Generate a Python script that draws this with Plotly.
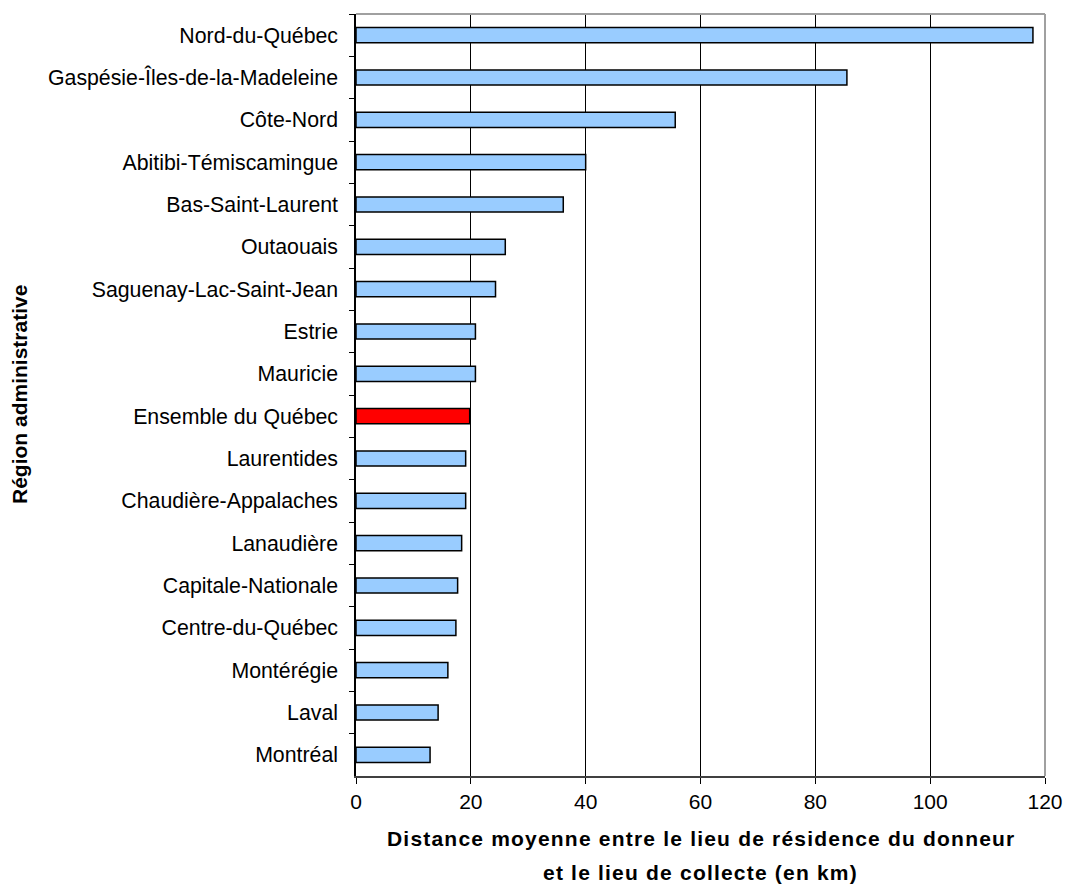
import plotly.graph_objects as go

# Regions, listed from top to bottom
regions = [
    "Nord-du-Québec",
    "Gaspésie-Îles-de-la-Madeleine",
    "Côte-Nord",
    "Abitibi-Témiscamingue",
    "Bas-Saint-Laurent",
    "Outaouais",
    "Saguenay-Lac-Saint-Jean",
    "Estrie",
    "Mauricie",
    "Ensemble du Québec",
    "Laurentides",
    "Chaudière-Appalaches",
    "Lanaudière",
    "Capitale-Nationale",
    "Centre-du-Québec",
    "Montérégie",
    "Laval",
    "Montréal",
]

# Mean distance (km) between donor residence and collection site
distance_km = [
    117.9, 85.5, 55.6, 40.0, 36.1, 26.0, 24.3, 20.8, 20.8,
    19.8, 19.1, 19.1, 18.4, 17.7, 17.4, 16.0, 14.3, 12.9,
]

x_ticks = [0, 20, 40, 60, 80, 100, 120]

# The provincial total is highlighted in red
bar_colors = ["#FF0000" if r == "Ensemble du Québec" else "#99CCFF" for r in regions]

W, H = 1065, 888
L, R, T, B = 356, 20, 14, 112
plot_h = H - T - B
plot_w = W - L - R

def py(pix):
    return (H - B - pix) / plot_h

def px(pix):
    return (pix - L) / plot_w

fig = go.Figure(
    go.Bar(
        x=distance_km,
        y=regions,
        orientation="h",
        width=0.36,
        marker=dict(color=bar_colors, line=dict(color="#000000", width=1.5)),
        hoverinfo="x+y",
    )
)

font_main = "Liberation Sans, Arial, sans-serif"

fig.update_layout(
    width=W,
    height=H,
    margin=dict(l=L, r=R, t=T, b=B, pad=0, autoexpand=False),
    paper_bgcolor="white",
    plot_bgcolor="white",
    showlegend=False,
    font=dict(family=font_main, size=21, color="#000000"),
    xaxis=dict(
        range=[0, 120],
        tickvals=x_ticks,
        ticktext=[str(v) for v in x_ticks],
        showgrid=True,
        gridcolor="#000000",
        gridwidth=1,
        zeroline=False,
        showline=True,
        linecolor="#404040",
        linewidth=2,
        ticks="outside",
        ticklen=6,
        tickwidth=1,
        tickcolor="#000000",
        tickfont=dict(size=21),
        automargin=False,
    ),
    yaxis=dict(
        type="category",
        categoryorder="array",
        categoryarray=regions,
        autorange="reversed",
        showgrid=False,
        zeroline=False,
        showline=True,
        linecolor="#000000",
        linewidth=1.5,
        ticks="outside",
        tickson="boundaries",
        ticklen=5,
        tickwidth=1,
        tickcolor="#000000",
        tickfont=dict(size=21.3),
        ticklabelstandoff=12,
        automargin=False,
    ),
    shapes=[
        dict(type="line", xref="paper", yref="paper", x0=0, x1=1, y0=1, y1=1,
             line=dict(color="#A0A0A0", width=2), layer="above"),
        dict(type="line", xref="paper", yref="paper", x0=1, x1=1, y0=0, y1=1,
             line=dict(color="#A0A0A0", width=2), layer="above"),
    ],
    annotations=[
        dict(
            text="<b><span style='letter-spacing:1.2px'>Distance moyenne entre le lieu de résidence du donneur</span></b>",
            xref="paper", yref="paper", x=0.5, y=py(838),
            xanchor="center", yanchor="middle", showarrow=False,
            font=dict(size=21, family=font_main),
        ),
        dict(
            text="<b><span style='letter-spacing:1.2px'>et le lieu de collecte (en km)</span></b>",
            xref="paper", yref="paper", x=0.5, y=py(872),
            xanchor="center", yanchor="middle", showarrow=False,
            font=dict(size=21, family=font_main),
        ),
        dict(
            text="<b>Région administrative</b>",
            xref="paper", yref="paper", x=px(19), y=0.5,
            xanchor="center", yanchor="middle", textangle=-90, showarrow=False,
            font=dict(size=21, family=font_main),
        ),
    ],
)

fig.write_html("out.html")
